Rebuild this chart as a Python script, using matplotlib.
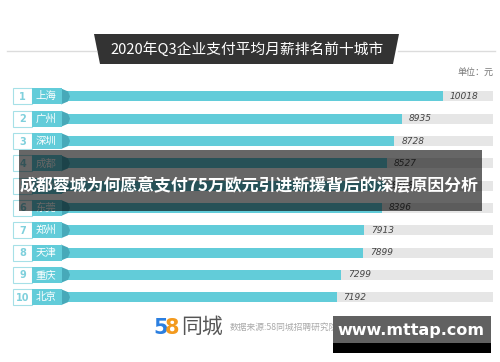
import matplotlib
matplotlib.use("Agg")
import matplotlib.pyplot as plt
from matplotlib.patches import Rectangle, Polygon

plt.rcParams['font.family'] = ['Noto Sans CJK SC', 'DejaVu Sans']

# data (row 5 is hidden under the banner, value estimated)
ranks = ["1", "2", "3", "4", "5", "6", "7", "8", "9", "10"]
cities = ["上海", "广州", "深圳", "成都", "杭州", "东莞", "郑州", "天津", "重庆", "北京"]
salaries = [10018, 8935, 8728, 8527, 8468, 8396, 7913, 7899, 7299, 7192]
axis_max = 11360

title = "2020年Q3企业支付平均月薪排名前十城市"
unit = "单位：元"
headline = "成都蓉城为何愿意支付75万欧元引进新援背后的深层原因分析"
source = "数据来源:58同城招聘研究院"
watermark = "www.mttap.com"

teal = "#62ccd9"
teal_dark = "#47a9b9"
W, H = 500, 362
row_top, row_step = 85.3, 22.3

fig = plt.figure(figsize=(5, 3.62), dpi=100)
fig.patch.set_facecolor("white")

# bar axes, positioned in pixels
x0, x1 = 67, 493
ax_b = fig.add_axes([x0 / W, 1 - (row_top + 10 * row_step) / H,
                     (x1 - x0) / W, 10 * row_step / H])
ax_b.set_zorder(1)
n = len(cities)
ypos = list(range(n))
ax_b.barh(ypos, [axis_max] * n, height=0.45, color="#e6e6e6", zorder=1)
ax_b.barh(ypos, salaries, height=0.45, color=teal, zorder=2)
for y, v in zip(ypos, salaries):
    ax_b.annotate(str(v), (v, y), xytext=(5, 0), textcoords="offset points",
                  va="center", ha="left", fontsize=6.5, style="italic",
                  color="#444444", family="DejaVu Sans")
ax_b.set_xlim(0, axis_max)
ax_b.set_ylim(n - 0.5, -0.5)
ax_b.axis("off")

# pixel axes for decoration, drawn above the bars
ax = fig.add_axes([0, 0, 1, 1])
ax.set_zorder(2)
ax.patch.set_alpha(0)
ax.set_xlim(0, W)
ax.set_ylim(H, 0)
ax.axis("off")

# title banner
ax.plot([7, 96], [51, 51], color="#dcdcdc", lw=1)
ax.plot([398, 495], [51, 51], color="#dcdcdc", lw=1)
ax.add_patch(Polygon([(94, 34), (399, 34), (393, 64), (100, 64)],
                     closed=True, facecolor="#333333", lw=0))
ax.text(247, 49.5, title, color="white", fontsize=10.6, fontweight="medium",
        ha="center", va="center")
ax.text(493, 72, unit, color="#777777", fontsize=6.5, ha="right", va="center")

# row labels
for i, (r, c) in enumerate(zip(ranks, cities)):
    cy = row_top + (i + 0.5) * row_step
    ax.add_patch(Rectangle((13, cy - 8), 19, 16, facecolor="white",
                           edgecolor="#a6e0e7", lw=0.8))
    ax.add_patch(Polygon([(61, cy - 8), (68, cy - 5), (70, cy), (68, cy + 5), (61, cy + 8)],
                         closed=True, facecolor=teal_dark, lw=0))
    ax.add_patch(Rectangle((32, cy - 8), 30, 16, facecolor=teal, lw=0))
    ax.text(22.5, cy + 0.5, r, color="#7fd0dc", fontsize=7, fontweight="bold",
            ha="center", va="center", family="DejaVu Sans")
    ax.text(46, cy, c, color="white", fontsize=7.5, ha="center", va="center")

# dark headline overlay
ax.add_patch(Rectangle((19, 150), 463, 61, facecolor="black", alpha=0.6,
                       lw=0, zorder=5))
ax.text(249, 185, headline, color="white", fontsize=12.2, fontweight="bold",
        ha="center", va="center", zorder=6)

# footer logo and source
ax.text(153, 328, "5", color="#2b7fe0", fontsize=15, fontweight="bold",
        ha="left", va="center", family="DejaVu Sans")
ax.text(165, 328, "8", color="#f39a1e", fontsize=15, fontweight="bold",
        ha="left", va="center", family="DejaVu Sans")
ax.text(181, 327, "同城", color="#555555", fontsize=15, ha="left", va="center")
ax.text(230, 327, source, color="#aaaaaa", fontsize=6.3, ha="left", va="center")

# watermark box
ax.add_patch(Rectangle((333, 316), 158, 27, facecolor="#616161", lw=0, zorder=7))
ax.add_patch(Rectangle((333, 343), 158, 10, facecolor="black", lw=0, zorder=7))
ax.text(411, 331, watermark, color="white", fontsize=11.5, fontweight="bold",
        ha="center", va="center", family="DejaVu Sans", zorder=8)

fig.savefig("out.png", dpi=100)
